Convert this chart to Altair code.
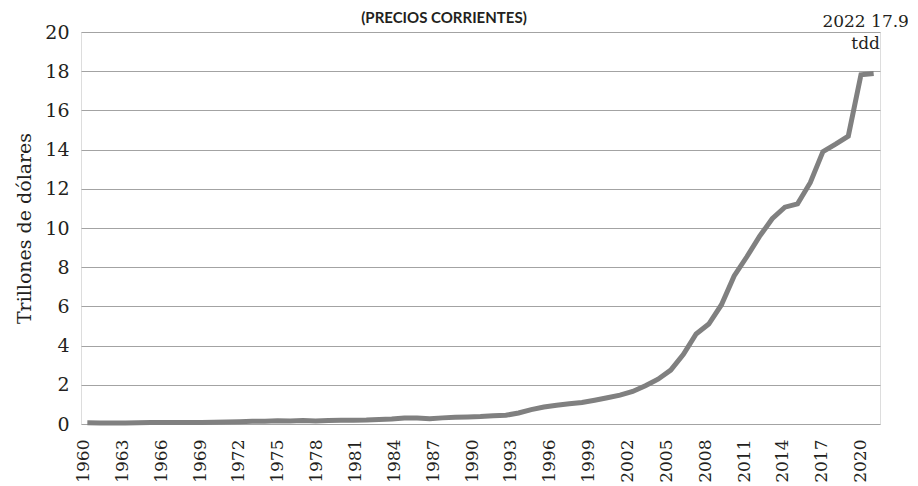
import altair as alt
import pandas as pd

years = list(range(1960, 2023))
gdp = [0.0597, 0.0500, 0.0472, 0.0507, 0.0597, 0.0704, 0.0768, 0.0729, 0.0709, 0.0794,
       0.0926, 0.0998, 0.1136, 0.1385, 0.1442, 0.1634, 0.1539, 0.1742, 0.1495, 0.1783,
       0.1911, 0.1958, 0.2051, 0.2302, 0.2599, 0.3095, 0.3008, 0.2729, 0.3123, 0.3477,
       0.3609, 0.3834, 0.4269, 0.4447, 0.5643, 0.7343, 0.8632, 0.9615, 1.0290, 1.0940,
       1.2113, 1.3394, 1.4706, 1.6603, 1.9553, 2.2860, 2.7521, 3.5503, 4.5944, 5.1017,
       6.0872, 7.5515, 8.5322, 9.5704, 10.4757, 11.0616, 11.2333, 12.3104, 13.8948, 14.2799,
       14.6877, 17.8205, 17.8817]
tick_years = list(range(1960, 2021, 3))
y_ticks = list(range(0, 21, 2))
title_text = "(PRECIOS CORRIENTES)"
y_title = "Trillones de dólares"
unit = "tdd"

df = pd.DataFrame({"year": years, "gdp": gdp})
last = df.tail(1).copy()
last["label"] = last.apply(lambda r: f"{int(r.year)} {r.gdp:.1f}\n{unit}", axis=1)
ticks_df = pd.DataFrame({"year": tick_years})

FONT = "DejaVu Serif"
TXT = "#231f20"
line_scale = alt.Scale(domain=[1959.5, 2022.5], nice=False, zero=False)
y_scale = alt.Scale(domain=[0, 20], nice=False)

line = alt.Chart(df).mark_line(color="#808080", strokeWidth=5).encode(
    x=alt.X("year:Q", scale=line_scale, axis=None),
    y=alt.Y("gdp:Q", scale=y_scale,
            axis=alt.Axis(values=y_ticks, grid=True, domain=False, ticks=False,
                          gridColor="#a3a3a3", gridWidth=1.2, labelPadding=12,
                          labelFont=FONT, labelFontSize=19, labelColor=TXT,
                          title=y_title, titleFont=FONT, titleFontSize=19,
                          titleFontWeight="normal", titleColor=TXT, titlePadding=10)),
)

ann = alt.Chart(last).mark_text(font=FONT, fontSize=17, color=TXT, lineBreak="\n",
                                 align="center", baseline="alphabetic", lineHeight=22,
                                 dx=-8).encode(
    x=alt.X("year:Q", scale=line_scale, axis=None),
    y=alt.value(-5),
    text="label:N",
)

top = alt.Chart(last).mark_text(font="Lato", fontWeight="bold", fontSize=15, color=TXT,
                                 align="center", baseline="alphabetic").encode(
    x=alt.value(363),
    y=alt.value(-9),
    text=alt.value(title_text),
)

xlabels = alt.Chart(ticks_df).mark_point(opacity=0).encode(
    x=alt.X("year:Q", scale=alt.Scale(domain=[1959.81, 2021.5], nice=False, zero=False),
            axis=alt.Axis(values=tick_years, orient="bottom", grid=False, domain=False,
                          ticks=False, labelAngle=270, labelPadding=15, format="d",
                          labelFont=FONT, labelFontSize=17, labelColor=TXT,
                          labelOverlap=False, title=None)),
    y=alt.value(392),
)

chart = alt.layer(line, ann, top, xlabels).resolve_scale(x="independent").properties(
    width=799, height=392,
    autosize=alt.AutoSizeParams(type="none"),
    padding={"left": 73, "top": 24, "right": 28, "bottom": 62},
).configure_view(stroke=None).configure(background="white")

chart.save("out.html", embed_options={"renderer": "svg", "actions": False})
